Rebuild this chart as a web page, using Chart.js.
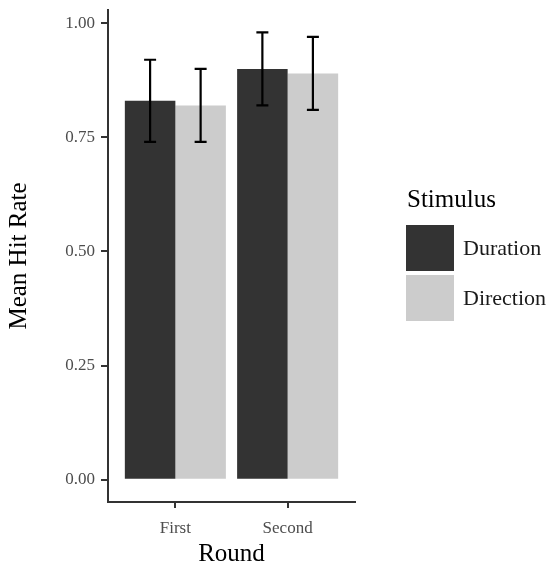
<!DOCTYPE html>
<html>
<head>
<meta charset="utf-8">
<script src="https://cdn.jsdelivr.net/npm/chart.js@4/dist/chart.umd.min.js"></script>
<style>
  html, body { margin: 0; padding: 0; background: #fff; }
  #wrap { width: 551px; height: 569px; position: relative; }
</style>
</head>
<body>
<div id="wrap"><canvas id="hitChart"></canvas></div>
<script>
// data
const rounds = ["First", "Second"];
const stimuli = ["Duration", "Direction"];
const durationMean = [0.83, 0.90];
const durationLow = [0.74, 0.82];
const durationHigh = [0.92, 0.98];
const directionMean = [0.82, 0.89];
const directionLow = [0.74, 0.81];
const directionHigh = [0.90, 0.97];
const yTicks = [0, 0.25, 0.5, 0.75, 1];

const SERIF = '"Liberation Serif", "Times New Roman", serif';

// error bars drawn from each bar's position and the y scale
const errorBars = {
    id: "errorBars",
    afterDatasetsDraw(chart) {
        const ctx = chart.ctx;
        const y = chart.scales.y;
        const ranges = [[durationLow, durationHigh], [directionLow, directionHigh]];
        ctx.save();
        ctx.strokeStyle = "#000";
        ctx.lineWidth = 2.2;
        chart.data.datasets.forEach((ds, d) => {
            const meta = chart.getDatasetMeta(d);
            meta.data.forEach((bar, i) => {
                const lo = y.getPixelForValue(ranges[d][0][i]);
                const hi = y.getPixelForValue(ranges[d][1][i]);
                const x = bar.x, cap = 6;
                ctx.beginPath();
                ctx.moveTo(x, lo); ctx.lineTo(x, hi);
                ctx.moveTo(x - cap, lo); ctx.lineTo(x + cap, lo);
                ctx.moveTo(x - cap, hi); ctx.lineTo(x + cap, hi);
                ctx.stroke();
            });
        });
        ctx.restore();
    }
};

// ggplot style legend on the right
const sideLegend = {
    id: "sideLegend",
    afterDraw(chart) {
        const ctx = chart.ctx;
        ctx.save();
        ctx.fillStyle = "#000";
        ctx.textBaseline = "middle";
        ctx.font = "25px " + SERIF;
        ctx.fillText("Stimulus", 407, 200);
        ctx.font = "22px " + SERIF;
        chart.data.datasets.forEach((ds, i) => {
            const top = 225 + i * 50;
            ctx.fillStyle = ds.backgroundColor;
            ctx.fillRect(406, top, 48, 46);
            ctx.fillStyle = "#1a1a1a";
            ctx.fillText(ds.label, 463, top + 24);
        });
        ctx.restore();
    }
};

document.addEventListener("DOMContentLoaded", () => {
    const ctx = document.getElementById("hitChart");

    new Chart(ctx, {
        type: "bar",
        data: {
            datasets: [
                {
                    label: stimuli[0],
                    data: durationMean.map((v, i) => ({ x: i + 1, y: v })),
                    backgroundColor: "#333333"
                },
                {
                    label: stimuli[1],
                    data: directionMean.map((v, i) => ({ x: i + 1, y: v })),
                    backgroundColor: "#cccccc"
                }
            ]
        },
        options: {
            responsive: true,
            maintainAspectRatio: false,
            animation: false,
            categoryPercentage: 0.9,
            barPercentage: 1.0,
            layout: { padding: { top: 10, right: 196, left: 0, bottom: 0 } },
            plugins: {
                legend: { display: false },
                tooltip: { enabled: false }
            },
            scales: {
                x: {
                    type: "linear",
                    min: 0.4,
                    max: 2.6,
                    offset: false,
                    afterBuildTicks(scale) {
                        scale.ticks = rounds.map((r, i) => ({ value: i + 1 }));
                    },
                    afterFit(scale) { scale.height = 67; },
                    grid: { offset: false, drawOnChartArea: false, drawTicks: true, tickLength: 6, color: "#333", lineWidth: 2 },
                    border: { display: true, color: "#333", width: 2 },
                    ticks: {
                        padding: 10,
                        color: "#4d4d4d",
                        font: { family: SERIF, size: 17 },
                        callback: (v) => rounds[v - 1] || ""
                    },
                    title: {
                        display: true,
                        text: "Round",
                        color: "#000",
                        font: { family: SERIF, size: 25 },
                        padding: { top: 0, bottom: 0 }
                    }
                },
                y: {
                    min: -0.049,
                    max: 1.029,
                    afterBuildTicks(scale) {
                        scale.ticks = yTicks.map(v => ({ value: v }));
                    },
                    afterFit(scale) {
                        scale.width = 108;
                        scale.paddingTop = 0;
                        scale.paddingBottom = 0;
                    },
                    grid: { drawOnChartArea: false, drawTicks: true, tickLength: 7, color: "#333", lineWidth: 2 },
                    border: { display: true, color: "#333", width: 2 },
                    ticks: {
                        padding: 6,
                        color: "#4d4d4d",
                        font: { family: SERIF, size: 17 },
                        callback: (v) => Number(v).toFixed(2)
                    },
                    title: {
                        display: true,
                        text: "Mean Hit Rate",
                        color: "#000",
                        font: { family: SERIF, size: 25 },
                        padding: { top: 4, bottom: 0 }
                    }
                }
            }
        },
        plugins: [errorBars, sideLegend]
    });
});
</script>
</body>
</html>
